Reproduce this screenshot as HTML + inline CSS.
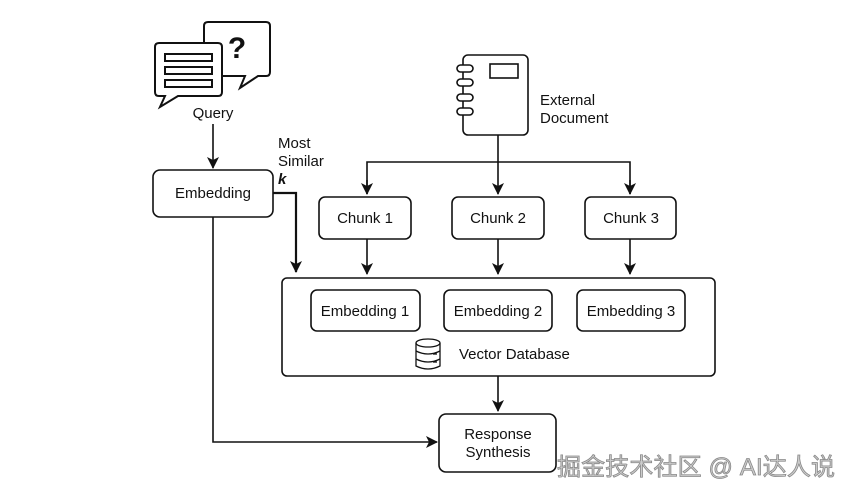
<!DOCTYPE html>
<html><head><meta charset="utf-8"><style>
html,body{margin:0;padding:0;background:#fff;}
svg{display:block;font-family:"Liberation Sans",Arial,sans-serif;}
</style></head><body>
<svg width="856" height="498" viewBox="0 0 856 498" xmlns="http://www.w3.org/2000/svg">
<defs>
<marker id="a" markerWidth="12" markerHeight="12" refX="11" refY="6" orient="auto" markerUnits="userSpaceOnUse">
<path d="M0,0 L12,6 L0,12 L3,6 Z" fill="#111"/>
</marker>
</defs>
<g fill="none" stroke="#111" stroke-width="2">
<path d="M208,22 H266 Q270,22 270,26 V72 Q270,76 266,76 H258 L240,88 L245,76 H222" fill="#fff"/>
<path d="M208,22 Q204,22 204,26 V43"/>
<path d="M159,43 H218 Q222,43 222,47 V92 Q222,96 218,96 H178 L160,107 L165,96 H159 Q155,96 155,92 V47 Q155,43 159,43 Z" fill="#fff"/>
<rect x="165" y="54" width="47" height="7" fill="#fff"/>
<rect x="165" y="67" width="47" height="7" fill="#fff"/>
<rect x="165" y="80" width="47" height="7" fill="#fff"/>
</g>
<text x="237" y="58" font-size="30" font-weight="bold" text-anchor="middle" fill="#111">?</text>
<text x="213" y="118" font-size="15" text-anchor="middle" fill="#111">Query</text>
<g stroke="#111" stroke-width="1.6" fill="none">
<line x1="213" y1="124" x2="213" y2="168" marker-end="url(#a)"/>
<rect x="153" y="170" width="120" height="47" rx="7" fill="#fff"/>
<polyline points="273,193 296,193 296,272" marker-end="url(#a)" stroke-width="2.2"/>
<polyline points="213,217 213,442 437,442" marker-end="url(#a)"/>
<rect x="463" y="55" width="65" height="80" rx="5" fill="#fff"/>
<rect x="490" y="64" width="28" height="14"/>
<rect x="457" y="65" width="16" height="7" rx="3.5" fill="#fff"/>
<rect x="457" y="79" width="16" height="7" rx="3.5" fill="#fff"/>
<rect x="457" y="94" width="16" height="7" rx="3.5" fill="#fff"/>
<rect x="457" y="108" width="16" height="7" rx="3.5" fill="#fff"/>
<line x1="498" y1="135" x2="498" y2="194" marker-end="url(#a)"/>
<polyline points="367,194 367,162 630,162 630,194" />
<line x1="367" y1="180" x2="367" y2="194" marker-end="url(#a)"/>
<line x1="630" y1="180" x2="630" y2="194" marker-end="url(#a)"/>
<rect x="319" y="197" width="92" height="42" rx="6" fill="#fff"/>
<rect x="452" y="197" width="92" height="42" rx="6" fill="#fff"/>
<rect x="585" y="197" width="91" height="42" rx="6" fill="#fff"/>
<line x1="367" y1="239" x2="367" y2="274" marker-end="url(#a)"/>
<line x1="498" y1="239" x2="498" y2="274" marker-end="url(#a)"/>
<line x1="630" y1="239" x2="630" y2="274" marker-end="url(#a)"/>
<rect x="282" y="278" width="433" height="98" rx="5" fill="#fff"/>
<rect x="311" y="290" width="109" height="41" rx="6"/>
<rect x="444" y="290" width="108" height="41" rx="6"/>
<rect x="577" y="290" width="108" height="41" rx="6"/>
<line x1="498" y1="376" x2="498" y2="411" marker-end="url(#a)"/>
<rect x="439" y="414" width="117" height="58" rx="7" fill="#fff"/>
<g stroke-width="1.3">
<ellipse cx="428" cy="343" rx="12" ry="4"/>
<path d="M416,343 V366 Q428,372 440,366 V343"/>
<path d="M416,351 Q428,357 440,351"/>
<path d="M416,359 Q428,365 440,359"/>
<line x1="433" y1="354" x2="437" y2="354"/>
<line x1="433" y1="362" x2="437" y2="362"/>
</g>
</g>
<g font-size="15" fill="#111" text-anchor="middle">
<text x="213" y="198">Embedding</text>
<text x="365" y="223">Chunk 1</text>
<text x="498" y="223">Chunk 2</text>
<text x="631" y="223">Chunk 3</text>
<text x="365" y="316">Embedding 1</text>
<text x="498" y="316">Embedding 2</text>
<text x="631" y="316">Embedding 3</text>
<text x="498" y="439">Response</text>
<text x="498" y="457">Synthesis</text>
</g>
<g font-size="15" fill="#111">
<text x="540" y="105">External</text>
<text x="540" y="123">Document</text>
<text x="278" y="148">Most</text>
<text x="278" y="166">Similar</text>
<text x="278" y="184" font-weight="bold" font-style="italic">k</text>
<text x="459" y="359">Vector Database</text>
</g>
<text x="557" y="475" font-size="24" fill="#ccc" stroke="#888" stroke-width="0.8" textLength="278" font-family="'Liberation Sans','Noto Sans CJK SC',sans-serif">掘金技术社区 @ AI达人说</text>
</svg>
</body></html>
